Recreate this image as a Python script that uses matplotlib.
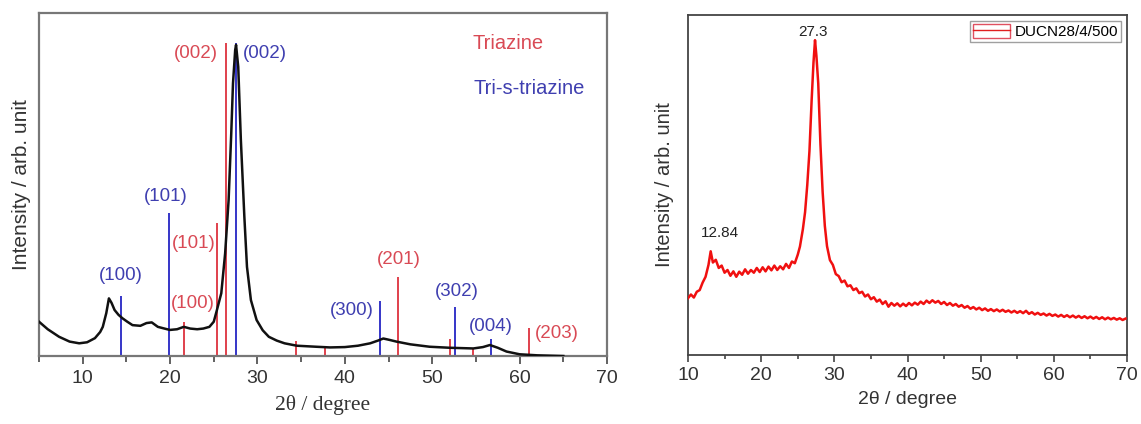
import matplotlib
matplotlib.use("Agg")
import matplotlib.pyplot as plt
from matplotlib.patches import Patch
from matplotlib.lines import Line2D

# ---------------- Left panel data ----------------
left_x = [5.0, 6.0, 7.3, 8.5, 9.6, 10.5, 11.4, 12.0, 12.3, 12.7, 13.0, 13.3, 13.65, 14.1, 14.55,
          15.1, 15.7, 16.6, 17.3, 17.9, 18.6, 19.2, 19.98, 20.8, 21.57, 22.3, 23.1, 23.8, 24.5,
          25.0, 25.36, 25.86, 26.3, 26.7, 27.0, 27.2, 27.45, 27.55, 27.8, 28.1, 28.5, 28.8,
          29.25, 29.9, 30.6, 31.3, 32.2, 33.1, 34.5, 36.7, 38.3, 40.0, 41.5, 42.9, 43.8, 44.4,
          45.1, 45.9, 47.5, 49.7, 52.0, 54.7, 55.8, 56.6, 57.5, 58.5, 60.0, 62.0, 65.0]
left_y = [10.0, 7.8, 5.6, 4.2, 3.7, 4.0, 5.2, 7.0, 8.5, 12.5, 16.8, 15.5, 13.4, 12.0, 11.0,
          10.0, 9.0, 8.8, 9.6, 9.8, 8.5, 8.1, 7.6, 7.8, 8.5, 8.0, 7.8, 8.0, 8.5,
          10.0, 13.4, 18.3, 29.9, 45.5, 64.9, 79.5, 89.2, 90.7, 84.3, 63.0, 40.6, 26.0,
          16.3, 10.5, 7.5, 5.6, 4.5, 3.7, 3.0, 2.7, 2.5, 2.6, 3.0, 3.7, 4.5, 5.1,
          4.7, 4.2, 3.4, 2.7, 2.4, 2.2, 2.6, 3.2, 2.4, 1.3, 0.5, 0.2, 0.0]

triazine_pos = [21.57, 25.4, 26.45, 34.45, 37.7, 46.1, 52.0, 54.7, 61.1]
triazine_int = [10.0, 38.7, 91.2, 4.5, 2.7, 22.9, 4.9, 2.2, 8.1]
tris_pos = [14.4, 19.9, 27.5, 44.0, 52.6, 56.7]
tris_int = [17.5, 41.8, 91.2, 16.0, 14.4, 5.1]

triazine_labels = ["(100)", "(101)", "(002)", "(201)", "(203)"]
triazine_label_x = [22.6, 22.7, 23.0, 46.2, 64.2]
triazine_label_y = [15.4, 32.9, 88.2, 28.0, 6.6]
tris_labels = ["(100)", "(101)", "(002)", "(300)", "(302)", "(004)"]
tris_label_x = [14.4, 19.5, 30.9, 40.8, 52.8, 56.75]
tris_label_y = [23.6, 46.4, 88.2, 13.4, 18.7, 8.5]

# ---------------- Right panel data ----------------
right_x = [10.0, 10.4, 10.8, 11.2, 11.6, 12.0, 12.4, 12.8, 13.1, 13.4, 13.8, 14.2, 14.6, 15.0,
           15.4, 15.8, 16.2, 16.6, 17.0, 17.4, 17.8, 18.2, 18.6, 19.0, 19.4, 19.8, 20.2, 20.6,
           21.0, 21.4, 21.8, 22.2, 22.6, 23.0, 23.4, 23.8, 24.2, 24.6, 25.0, 25.3, 25.7, 26.0,
           26.3, 26.6, 26.9, 27.15, 27.36, 27.55, 27.8, 28.1, 28.4, 28.7, 29.0, 29.4, 29.8,
           30.2, 30.6, 31.0, 31.4, 31.8, 32.2, 32.6, 33.0, 33.4, 33.8, 34.2, 34.6, 35.0, 35.4,
           35.8, 36.2, 36.6, 37.0, 37.4, 37.8, 38.2, 38.6, 39.0, 39.4, 39.8, 40.2, 40.6, 41.0,
           41.4, 41.8, 42.2, 42.6, 43.0, 43.4, 43.8, 44.2, 44.6, 45.0, 45.4, 45.8, 46.2, 46.6,
           47.0, 47.4, 47.8, 48.2, 48.6, 49.0, 49.4, 49.8, 50.2, 50.6, 51.0, 51.4, 51.8, 52.2,
           52.6, 53.0, 53.4, 53.8, 54.2, 54.6, 55.0, 55.4, 55.8, 56.2, 56.6, 57.0, 57.4, 57.8,
           58.2, 58.6, 59.0, 59.4, 59.8, 60.2, 60.6, 61.0, 61.4, 61.8, 62.2, 62.6, 63.0, 63.4,
           63.8, 64.2, 64.6, 65.0, 65.4, 65.8, 66.2, 66.6, 67.0, 67.4, 67.8, 68.2, 68.6, 69.0,
           69.4, 69.8]
right_y = [16.7, 17.8, 16.9, 18.6, 19.1, 21.3, 23.0, 26.5, 30.5, 27.2, 28.0, 25.6, 26.3, 24.2,
           25.0, 23.3, 24.6, 23.0, 24.5, 23.6, 25.2, 23.9, 25.0, 24.2, 25.6, 24.4, 25.8, 24.6,
           26.0, 24.9, 26.3, 25.0, 26.1, 25.2, 26.8, 25.6, 27.5, 27.0, 29.5, 31.9, 37.0, 42.0,
           50.0, 60.0, 75.0, 86.0, 92.6, 88.0, 79.9, 62.0, 48.0, 38.0, 32.0, 27.9, 26.5,
           23.8, 23.2, 21.4, 21.9, 20.2, 20.5, 19.1, 19.6, 18.2, 18.6, 17.2, 17.8, 16.4, 17.0,
           15.7, 16.3, 15.0, 15.8, 14.2, 15.3, 14.5, 15.2, 14.3, 15.1, 14.4, 15.3, 14.6, 15.4,
           14.8, 15.7, 15.0, 16.0, 15.3, 16.1, 15.4, 15.9, 15.0, 15.6, 14.7, 15.3, 14.5, 15.0,
           14.2, 14.7, 13.9, 14.4, 13.6, 14.1, 13.4, 13.9, 13.2, 13.7, 13.0, 13.5, 12.9, 13.4,
           12.8, 13.3, 12.7, 13.1, 12.5, 13.0, 12.4, 12.9, 12.3, 13.0, 12.1, 12.6, 11.9, 12.4,
           11.8, 12.2, 11.6, 12.1, 11.5, 11.9, 11.3, 11.8, 11.2, 11.7, 11.1, 11.6, 11.0, 11.5,
           10.9, 11.4, 10.8, 11.3, 10.7, 11.2, 10.6, 11.1, 10.5, 11.0, 10.5, 10.9, 10.4, 10.8,
           10.3, 10.7]

peak_labels = ["27.3", "12.84"]
peak_label_x = [27.1, 14.3]
peak_label_y = [95.1, 35.8]

RED_LINE = "#e0404c"
BLUE_LINE = "#3535c8"
RED_TXT = "#d94a55"
BLUE_TXT = "#3f3fb0"

fig = plt.figure(figsize=(11.41, 4.24), dpi=100)

# ---------------- Left axes ----------------
axL = fig.add_axes([39 / 1141, 68 / 424, 568 / 1141, 343 / 424])
axL.plot(left_x, left_y, color="#111111", lw=1.8, zorder=3)
axL.vlines(triazine_pos, 0, triazine_int, color=RED_LINE, lw=1.4, zorder=2)
axL.vlines(tris_pos, 0, tris_int, color=BLUE_LINE, lw=1.4, zorder=2)
for t, x, y in zip(triazine_labels, triazine_label_x, triazine_label_y):
    axL.text(x, y, t, color=RED_TXT, fontsize=13.5, ha="center", va="center",
             family="Liberation Sans")
for t, x, y in zip(tris_labels, tris_label_x, tris_label_y):
    axL.text(x, y, t, color=BLUE_TXT, fontsize=13.5, ha="center", va="center",
             family="Liberation Sans")
axL.text(58.7, 91.2, "Triazine", color=RED_TXT, fontsize=14.5, ha="center", va="center",
         family="Liberation Sans")
axL.text(61.1, 78.0, "Tri-s-triazine", color=BLUE_TXT, fontsize=14.5, ha="center",
         va="center", family="Liberation Sans")
axL.set_xlim(5, 70)
axL.set_ylim(0, 100)
axL.set_xticks([10, 20, 30, 40, 50, 60, 70])
axL.set_xticks([5, 15, 25, 35, 45, 55, 65], minor=True)
axL.set_yticks([])
axL.tick_params(axis="x", which="major", direction="out", length=6, width=1.3,
                color="#555555", labelsize=14, labelcolor="#333333", pad=4)
axL.tick_params(axis="x", which="minor", direction="out", length=4, width=1.3,
                color="#555555")
for lab in axL.get_xticklabels():
    lab.set_family("Liberation Sans")
for s in axL.spines.values():
    s.set_color("#777777")
    s.set_linewidth(1.6)
axL.set_xlabel("2θ / degree", family="Liberation Serif", fontsize=15.5, color="#333333",
               labelpad=6)
axL.set_ylabel("Intensity / arb. unit", family="Liberation Sans", fontsize=15,
               color="#333333", labelpad=6)

# ---------------- Right axes ----------------
axR = fig.add_axes([688 / 1141, 69 / 424, 439 / 1141, 340 / 424])
axR.plot(right_x, right_y, color="#f01010", lw=1.8, zorder=3)
for t, x, y in zip(peak_labels, peak_label_x, peak_label_y):
    axR.text(x, y, t, color="#222222", fontsize=11, ha="center", va="center",
             family="Liberation Sans")
axR.set_xlim(10, 70)
axR.set_ylim(0, 100)
axR.set_xticks([10, 20, 30, 40, 50, 60, 70])
axR.set_xticks([15, 25, 35, 45, 55, 65], minor=True)
axR.set_yticks([])
axR.tick_params(axis="x", which="major", direction="out", length=5, width=1.2,
                color="#444444", labelsize=14, labelcolor="#333333", pad=4)
axR.tick_params(axis="x", which="minor", direction="out", length=3, width=1.2,
                color="#444444")
for lab in axR.get_xticklabels():
    lab.set_family("Liberation Sans")
for s in axR.spines.values():
    s.set_color("#444444")
    s.set_linewidth(1.3)
axR.set_xlabel("2θ / degree", family="Liberation Sans", fontsize=14, color="#333333",
               labelpad=5)
axR.set_ylabel("Intensity / arb. unit", family="Liberation Sans", fontsize=14.5,
               color="#333333", labelpad=10)

handle = (Patch(facecolor="white", edgecolor="#e05060", lw=1.0),
          Line2D([], [], color="#e02020", lw=1.0))
leg = axR.legend([handle], ["DUCN28/4/500"], loc="upper right", frameon=True,
                 fancybox=False, edgecolor="#888888", handlelength=2.4, handleheight=1.0,
                 borderaxespad=0.4, borderpad=0.2, handletextpad=0.3,
                 prop={"family": "Liberation Sans", "size": 11})
leg.get_frame().set_linewidth(1.0)

fig.savefig("out.png", dpi=100)
